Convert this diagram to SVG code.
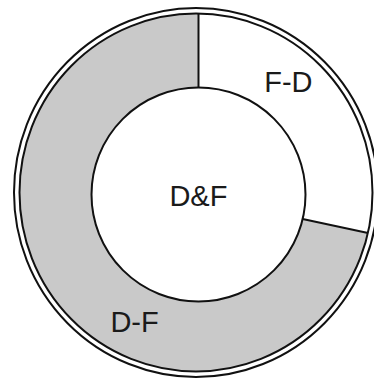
<svg xmlns="http://www.w3.org/2000/svg" width="374" height="379" viewBox="0 0 374 379">
<style>
.ln{fill:none;stroke:#111;stroke-width:2}
.lbl{font-family:"Liberation Sans",Arial,sans-serif;font-size:29px;fill:#1a1a1a}
</style>
<rect width="374" height="379" fill="#fff"/>
<g id="slice-DF">
<path d="M198.5,13.5 A176.5,179 0 1 0 368,233 L302.67,218.94 A107,107 0 1 1 198.5,87.5 Z" fill="#c9c9c9"/>
<text class="lbl" x="110.4" y="331.7">D-F</text>
</g>
<g id="slice-FD">
<text class="lbl" x="264.2" y="92.3">F-D</text>
</g>
<g id="ring">
<ellipse class="ln" cx="196" cy="192.5" rx="182" ry="184.5"/>
<ellipse class="ln" cx="196" cy="192.5" rx="176.5" ry="179"/>
</g>
<g id="center-DF">
<circle class="ln" cx="198.5" cy="194.5" r="107" fill="#fff"/>
<text class="lbl" x="169.4" y="206">D&amp;F</text>
</g>
<g id="connectors">
<line class="ln" x1="198.5" y1="13.5" x2="198.5" y2="87.5"/>
<line class="ln" x1="302.67" y1="218.94" x2="368" y2="233"/>
</g>
</svg>
